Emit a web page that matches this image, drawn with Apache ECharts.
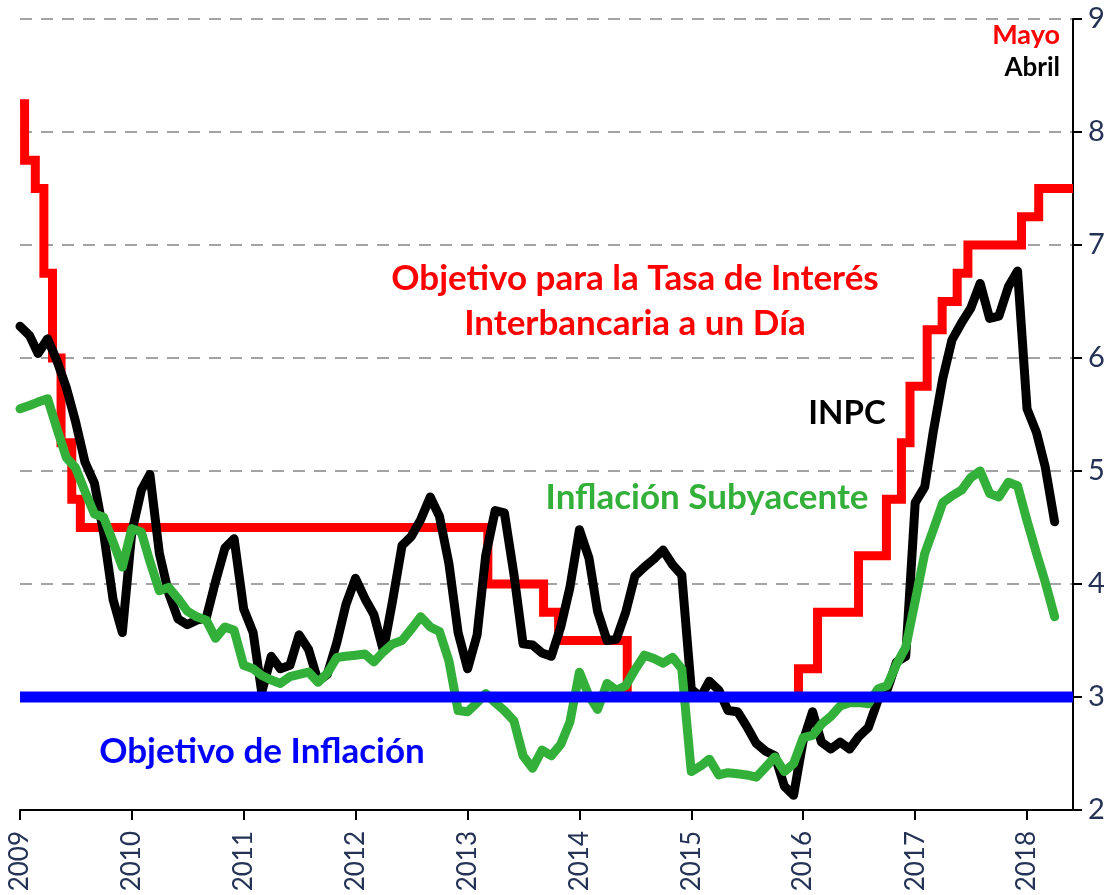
<!DOCTYPE html>
<html>
<head>
<meta charset="utf-8">
<script src="https://cdn.jsdelivr.net/npm/echarts@6/dist/echarts.min.js"></script>
<style>
  html, body { margin: 0; padding: 0; background: #ffffff; }
  #chart { width: 1117px; height: 895px; }
</style>
</head>
<body>
<div id="chart"></div>
<script>
// Monthly series start in January 2009 (one value per month, through April 2018)
const firstYear = 2009;

// INPC, annual % change
const inpc = [
  6.28, 6.20, 6.04, 6.17, 5.98, 5.74, 5.44, 5.08, 4.89, 4.45, 3.86, 3.57,
  4.46, 4.83, 4.97, 4.27, 3.92, 3.69, 3.64, 3.68, 3.70, 4.02, 4.32, 4.40,
  3.78, 3.57, 3.04, 3.36, 3.25, 3.28, 3.55, 3.42, 3.14, 3.20, 3.48, 3.82,
  4.05, 3.87, 3.73, 3.41, 3.85, 4.34, 4.42, 4.57, 4.77, 4.60, 4.18, 3.57,
  3.25, 3.55, 4.25, 4.65, 4.63, 4.09, 3.47, 3.46, 3.39, 3.36, 3.62, 3.97,
  4.48, 4.23, 3.76, 3.50, 3.51, 3.75, 4.07, 4.15, 4.22, 4.30, 4.17, 4.08,
  3.07, 3.00, 3.14, 3.06, 2.88, 2.87, 2.74, 2.59, 2.52, 2.48, 2.21, 2.13,
  2.61, 2.87, 2.60, 2.54, 2.60, 2.54, 2.65, 2.73, 2.97, 3.06, 3.31, 3.36,
  4.72, 4.86, 5.35, 5.82, 6.16, 6.31, 6.44, 6.66, 6.35, 6.37, 6.63, 6.77,
  5.55, 5.34, 5.04, 4.55
];

// Inflación subyacente, annual % change
const subyacente = [
  5.55, 5.58, 5.61, 5.64, 5.38, 5.12, 5.03, 4.82, 4.62, 4.59, 4.37, 4.15,
  4.49, 4.46, 4.20, 3.94, 3.97, 3.87, 3.76, 3.71, 3.68, 3.52, 3.62, 3.59,
  3.28, 3.25, 3.19, 3.15, 3.12, 3.18, 3.20, 3.22, 3.13, 3.21, 3.35, 3.36,
  3.37, 3.38, 3.31, 3.40, 3.47, 3.50, 3.60, 3.71, 3.62, 3.58, 3.32, 2.88,
  2.87, 2.95, 3.03, 2.95, 2.88, 2.79, 2.48, 2.37, 2.53, 2.48, 2.58, 2.78,
  3.22, 3.01, 2.89, 3.12, 3.06, 3.10, 3.24, 3.37, 3.34, 3.30, 3.35, 3.25,
  2.34, 2.39, 2.45, 2.31, 2.33, 2.32, 2.31, 2.29, 2.38, 2.47, 2.34, 2.41,
  2.64, 2.66, 2.76, 2.83, 2.92, 2.95, 2.95, 2.94, 3.07, 3.10, 3.29, 3.44,
  3.85, 4.27, 4.48, 4.72, 4.78, 4.83, 4.94, 5.00, 4.80, 4.77, 4.90, 4.87,
  4.56, 4.27, 4.02, 3.71
];

// Objetivo para la Tasa de Interés Interbancaria a un Día: decision dates and new levels
const rateDates = [
  '2009-01-01', '2009-01-16', '2009-02-20', '2009-03-20', '2009-04-17',
  '2009-05-15', '2009-06-19', '2009-07-17', '2013-03-08', '2013-09-06',
  '2013-10-25', '2014-06-06', '2015-12-17', '2016-02-17', '2016-06-30',
  '2016-09-29', '2016-11-17', '2016-12-15', '2017-02-09', '2017-03-30',
  '2017-05-18', '2017-06-22', '2017-12-14', '2018-02-08', '2018-05-31'
];
const rateValues = [
  8.25, 7.75, 7.50, 6.75, 6.00,
  5.25, 4.75, 4.50, 4.00, 3.75,
  3.50, 3.00, 3.25, 3.75, 4.25,
  4.75, 5.25, 5.75, 6.25, 6.50,
  6.75, 7.00, 7.25, 7.50, 7.50
];

// Objetivo de Inflación
const inflationTarget = 3;

// Axis extent and tick labels
const axisDates = ['2009-01-01', '2018-05-31'];
const yearLabels = [2009, 2010, 2011, 2012, 2013, 2014, 2015, 2016, 2017, 2018];
const yMin = 2, yMax = 9;

// ---- helpers: x positions are UTC timestamps on a plain value axis ----
function ts(str) {
  const p = str.split('-').map(Number);
  return Date.UTC(p[0], p[1] - 1, p[2]);
}
function monthly(values) {
  return values.map((v, i) => [Date.UTC(firstYear + Math.floor(i / 12), i % 12, 1), v]);
}

const xMin = ts(axisDates[0]);
const xMax = ts(axisDates[1]);
const yearTicks = yearLabels.map(y => Date.UTC(y, 0, 1));
const rateData = rateDates.map((d, i) => [ts(d), rateValues[i]]);
const targetData = [[xMin, inflationTarget], [xMax, inflationTarget]];

const axisColor = '#243256';
const fontFam = 'Lato, "Open Sans", sans-serif';

const chart = echarts.init(document.getElementById('chart'), null, { renderer: 'canvas' });
chart.setOption({
  animation: false,
  backgroundColor: '#ffffff',
  grid: { left: 20, right: 44, top: 19, bottom: 85, containLabel: false },
  xAxis: {
    type: 'value',
    min: xMin,
    max: xMax,
    axisLine: { show: true, onZero: false, lineStyle: { color: '#000000', width: 2 } },
    axisTick: { show: true, length: 10, customValues: yearTicks, lineStyle: { color: '#000000', width: 2 } },
    axisLabel: {
      customValues: yearTicks,
      rotate: 90,
      margin: 21,
      fontSize: 26,
      fontFamily: fontFam,
      color: axisColor,
      formatter: v => String(new Date(v).getUTCFullYear())
    },
    splitLine: { show: false }
  },
  yAxis: {
    type: 'value',
    position: 'right',
    min: yMin,
    max: yMax,
    interval: 1,
    axisLine: { show: true, lineStyle: { color: '#000000', width: 2 } },
    axisTick: { show: true, length: 9, lineStyle: { color: '#000000', width: 2 } },
    axisLabel: { margin: 15, fontSize: 29, fontFamily: fontFam, color: axisColor },
    splitLine: { show: true, lineStyle: { color: '#A3A3A3', width: 2, type: [12, 9] } }
  },
  series: [
    {
      name: 'Objetivo Tasa',
      type: 'line',
      step: 'end',
      data: rateData,
      showSymbol: false,
      z: 2,
      lineStyle: { color: '#FF0000', width: 9, cap: 'butt', join: 'miter' }
    },
    {
      name: 'INPC',
      type: 'line',
      data: monthly(inpc),
      showSymbol: false,
      z: 3,
      lineStyle: { color: '#000000', width: 9, cap: 'round', join: 'round' }
    },
    {
      name: 'Inflación Subyacente',
      type: 'line',
      data: monthly(subyacente),
      showSymbol: false,
      z: 4,
      lineStyle: { color: '#33B039', width: 9, cap: 'round', join: 'round' }
    },
    {
      name: 'Objetivo de Inflación',
      type: 'line',
      data: targetData,
      showSymbol: false,
      z: 5,
      lineStyle: { color: '#0000FF', width: 11, cap: 'butt' }
    }
  ],
  graphic: [
    { type: 'text', x: 1060, y: 35, z: 10,
      style: { text: 'Mayo', fill: '#FF0000', font: 'bold 27px ' + fontFam, align: 'right', verticalAlign: 'middle' } },
    { type: 'text', x: 1060, y: 68, z: 10,
      style: { text: 'Abril', fill: '#000000', font: 'bold 26px ' + fontFam, align: 'right', verticalAlign: 'middle' } },
    { type: 'text', x: 635, y: 279, z: 10,
      style: { text: 'Objetivo para la Tasa de Interés', fill: '#FF0000', font: 'bold 35px ' + fontFam, align: 'center', verticalAlign: 'middle' } },
    { type: 'text', x: 635, y: 324, z: 10,
      style: { text: 'Interbancaria a un Día', fill: '#FF0000', font: 'bold 35px ' + fontFam, align: 'center', verticalAlign: 'middle' } },
    { type: 'text', x: 847, y: 413, z: 10,
      style: { text: 'INPC', fill: '#000000', font: 'bold 33px ' + fontFam, align: 'center', verticalAlign: 'middle' } },
    { type: 'text', x: 707, y: 498, z: 10,
      style: { text: 'Inflación Subyacente', fill: '#33B039', font: 'bold 35px ' + fontFam, align: 'center', verticalAlign: 'middle' } },
    { type: 'text', x: 262, y: 752, z: 10,
      style: { text: 'Objetivo de Inflación', fill: '#0000FF', font: 'bold 35px ' + fontFam, align: 'center', verticalAlign: 'middle' } }
  ]
});
</script>
</body>
</html>
